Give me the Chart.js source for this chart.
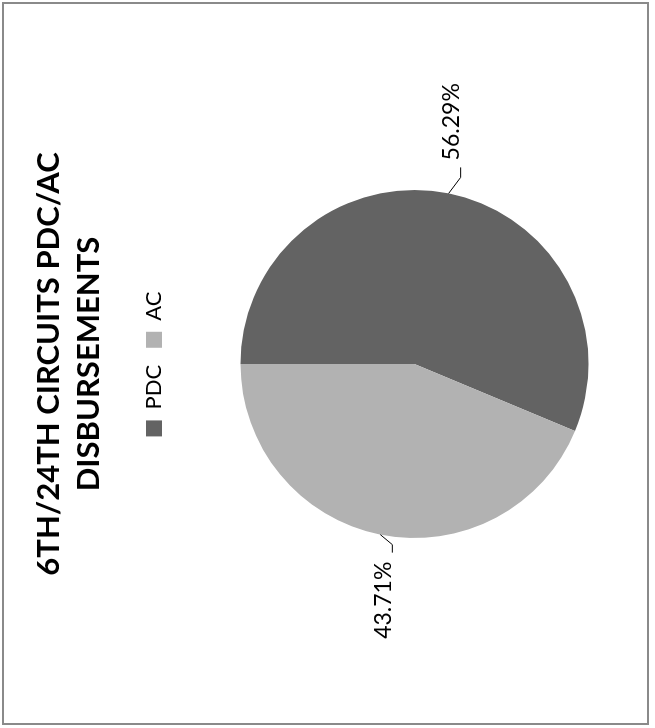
<!DOCTYPE html>
<html>
<head>
<meta charset="utf-8">
<script src="https://cdn.jsdelivr.net/npm/chart.js@4/dist/chart.umd.min.js"></script>
<style>
  html, body { margin: 0; padding: 0; background: #ffffff; }
  body { width: 655px; height: 728px; position: relative; overflow: hidden; }
  #frame { position: absolute; left: 2px; top: 2px; width: 647px; height: 723px;
           border: 2px solid #8a8a8a; box-sizing: border-box; }
  #rot { position: absolute; left: 0; top: 0; width: 728px; height: 655px;
         transform-origin: 0 0; transform: translate(0px, 728px) rotate(-90deg); }
</style>
</head>
<body>
<div id="frame"></div>
<div id="rot"><canvas id="c" width="728" height="655"></canvas></div>
<script>
// ---- data ----
const categories = ['PDC', 'AC'];
const shares = [56.29, 43.71];
const sliceColors = ['#636363', '#b2b2b2'];
const titleLines = ['6TH/24TH CIRCUITS PDC/AC', 'DISBURSEMENTS'];

const FONT = 'Lato, "Open Sans", sans-serif';

const leaderLabels = {
  id: 'leaderLabels',
  afterDatasetsDraw(chart) {
    const ctx = chart.ctx;
    const meta = chart.getDatasetMeta(0);
    const data = chart.data.datasets[0].data;
    const total = data.reduce((a, b) => a + b, 0);
    ctx.save();
    ctx.font = '23px ' + FONT;
    ctx.fillStyle = '#000';
    ctx.strokeStyle = '#000';
    ctx.lineWidth = 1;
    meta.data.forEach((arc, i) => {
      const p = arc.getProps(['x', 'y', 'startAngle', 'endAngle', 'outerRadius'], true);
      const mid = (p.startAngle + p.endAngle) / 2;
      const ex = p.x + Math.cos(mid) * p.outerRadius;
      const ey = p.y + Math.sin(mid) * p.outerRadius;
      const right = Math.cos(mid) >= 0;
      const dx1 = right ? 16 : -10, dy1 = 12, dx2 = right ? 10 : -8;
      const x2 = ex + dx1, y2 = ey + dy1, x3 = x2 + dx2;
      ctx.beginPath();
      ctx.moveTo(ex, ey); ctx.lineTo(x2, y2); ctx.lineTo(x3, y2);
      ctx.stroke();
      const txt = (data[i] / total * 100).toFixed(2) + '%';
      ctx.textBaseline = 'middle';
      ctx.textAlign = right ? 'left' : 'right';
      ctx.fillText(txt, right ? x3 + 7 : x3 - 9, y2 - 9);
    });
    ctx.restore();
  }
};

new Chart(document.getElementById('c'), {
  type: 'pie',
  data: {
    labels: categories,
    datasets: [{
      data: shares,
      backgroundColor: sliceColors,
      borderWidth: 0,
      radius: 174
    }]
  },
  options: {
    responsive: false,
    animation: false,
    layout: { padding: { top: 0, bottom: 1, left: 0, right: 0 } },
    plugins: {
      title: {
        display: true,
        text: titleLines,
        color: '#000',
        font: { family: FONT, size: 31, weight: 'bold', lineHeight: 1.29 },
        padding: { top: 29, bottom: 17 }
      },
      legend: {
        display: true,
        position: 'top',
        labels: {
          color: '#000',
          font: { family: FONT, size: 22 },
          boxWidth: 16,
          boxHeight: 16,
          padding: 17
        }
      },
      tooltip: { enabled: false }
    }
  },
  plugins: [leaderLabels]
});
</script>
</body>
</html>
